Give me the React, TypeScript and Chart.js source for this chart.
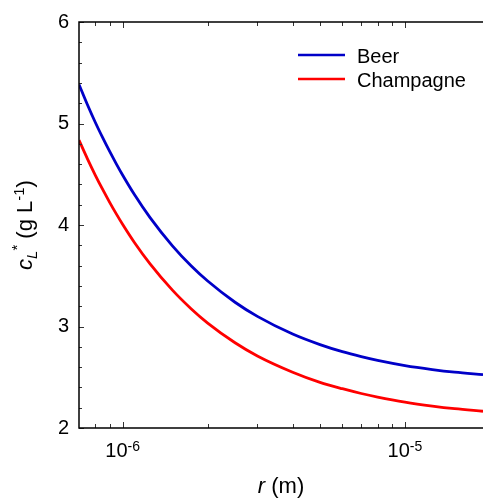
import React, { useEffect, useRef } from "react";
import { Chart, registerables } from "chart.js";

Chart.register(...registerables);

// Bubble radius r (m)
const R_VALUES = [
  7e-7, 7.5e-7, 8e-7, 8.5e-7, 9e-7, 9.5e-7, 1e-6, 1.1e-6, 1.25e-6, 1.5e-6,
  1.75e-6, 2e-6, 2.5e-6, 3e-6, 4e-6, 5e-6, 6e-6, 7e-6, 8e-6, 1e-5,
  1.25e-5, 1.5e-5, 1.89e-5,
];
// c_L* (g/L)
const BEER = [
  5.385, 5.185, 5.01, 4.858, 4.722, 4.6, 4.49, 4.3, 4.073, 3.795,
  3.596, 3.448, 3.239, 3.1, 2.926, 2.822, 2.752, 2.703, 2.666, 2.615,
  2.576, 2.55, 2.525,
];
const CHAMPAGNE = [
  4.836, 4.652, 4.49, 4.348, 4.221, 4.107, 4.005, 3.828, 3.617, 3.358,
  3.173, 3.034, 2.84, 2.71, 2.55, 2.45, 2.387, 2.34, 2.305, 2.255,
  2.216, 2.19, 2.165,
];
const SERIES_LABELS = ["Beer", "Champagne"];
const SERIES_COLORS = ["#0000C8", "#FF0000"];

const X_MIN = 7e-7;
const X_MAX = 1.89e-5;
const Y_MIN = 2;
const Y_MAX = 6;
const X_MAJOR_TICKS = [1e-6, 1e-5];
const X_MAJOR_EXPONENTS = ["-6", "-5"];
const X_MINOR_TICKS = [
  8e-7, 9e-7, 2e-6, 3e-6, 4e-6, 5e-6, 6e-6, 7e-6, 8e-6, 9e-6,
];
const Y_MAJOR_TICKS = [2, 3, 4, 5, 6];
const Y_MINOR_TICKS = [
  2.2, 2.4, 2.6, 2.8, 3.2, 3.4, 3.6, 3.8, 4.2, 4.4, 4.6, 4.8, 5.2, 5.4, 5.6, 5.8,
];

const FONT = "'Liberation Sans', Arial, sans-serif";

const drawPlugin = {
  id: "customAxesAndText",
  afterDatasetsDraw(chart: any) {
    const ctx: CanvasRenderingContext2D = chart.ctx;
    const { left, right, top, bottom } = chart.chartArea;
    const xs = chart.scales.x;
    const ys = chart.scales.y;
    ctx.save();

    // ticks
    ctx.strokeStyle = "#333";
    ctx.lineWidth = 1;
    ctx.beginPath();
    const xTick = (v: number, len: number) => {
      const px = Math.round(xs.getPixelForValue(v)) + 0.5;
      ctx.moveTo(px, bottom);
      ctx.lineTo(px, bottom - len);
      ctx.moveTo(px, top);
      ctx.lineTo(px, top + len);
    };
    X_MAJOR_TICKS.forEach((v) => xTick(v, 6));
    X_MINOR_TICKS.forEach((v) => xTick(v, 4));
    const yTick = (v: number, len: number) => {
      const py = Math.round(ys.getPixelForValue(v)) + 0.5;
      ctx.moveTo(left, py);
      ctx.lineTo(left + len, py);
    };
    Y_MAJOR_TICKS.forEach((v) => yTick(v, 5));
    Y_MINOR_TICKS.forEach((v) => yTick(v, 3));
    ctx.stroke();

    // axis lines (left, bottom, top)
    ctx.strokeStyle = "#000";
    ctx.lineWidth = 1.5;
    ctx.beginPath();
    ctx.moveTo(right, top);
    ctx.lineTo(left, top);
    ctx.lineTo(left, bottom);
    ctx.lineTo(right, bottom);
    ctx.stroke();

    // x tick labels 10^n
    ctx.fillStyle = "#000";
    ctx.textBaseline = "alphabetic";
    ctx.textAlign = "left";
    X_MAJOR_TICKS.forEach((v, i) => {
      const px = xs.getPixelForValue(v);
      ctx.font = `20px ${FONT}`;
      const wBase = ctx.measureText("10").width;
      ctx.font = `14px ${FONT}`;
      const wExp = ctx.measureText(X_MAJOR_EXPONENTS[i]).width;
      const start = px - (wBase + wExp) / 2;
      ctx.font = `20px ${FONT}`;
      ctx.fillText("10", start, bottom + 29);
      ctx.font = `14px ${FONT}`;
      ctx.fillText(X_MAJOR_EXPONENTS[i], start + wBase, bottom + 23);
    });

    // x axis title
    ctx.font = `italic 22px ${FONT}`;
    const wr = ctx.measureText("r").width;
    ctx.font = `22px ${FONT}`;
    const wrest = ctx.measureText(" (m)").width;
    const cx = (left + right) / 2;
    const sx = cx - (wr + wrest) / 2;
    ctx.font = `italic 22px ${FONT}`;
    ctx.fillText("r", sx, 493);
    ctx.font = `22px ${FONT}`;
    ctx.fillText(" (m)", sx + wr, 493);

    // y axis title (rotated)
    ctx.save();
    ctx.translate(32, (top + bottom) / 2);
    ctx.rotate(-Math.PI / 2);
    const parts: { t: string; f: string; dy: number }[] = [
      { t: "c", f: `italic 22px ${FONT}`, dy: 0 },
      { t: "L", f: `italic 15px ${FONT}`, dy: 5 },
      { t: "*", f: `15px ${FONT}`, dy: -10 },
      { t: " (g L", f: `22px ${FONT}`, dy: 0 },
      { t: "-1", f: `15px ${FONT}`, dy: -8 },
      { t: ")", f: `22px ${FONT}`, dy: 0 },
    ];
    let total = 0;
    const widths = parts.map((p) => {
      ctx.font = p.f;
      const w = ctx.measureText(p.t).width;
      total += w;
      return w;
    });
    let pos = -total / 2;
    parts.forEach((p, i) => {
      ctx.font = p.f;
      ctx.fillText(p.t, pos, p.dy);
      pos += widths[i];
    });
    ctx.restore();

    // legend
    chart.data.datasets.forEach((ds: any, i: number) => {
      const ly = 55 + i * 24;
      ctx.strokeStyle = ds.borderColor;
      ctx.lineWidth = 2.5;
      ctx.beginPath();
      ctx.moveTo(298, ly);
      ctx.lineTo(345, ly);
      ctx.stroke();
      ctx.fillStyle = "#000";
      ctx.font = `20px ${FONT}`;
      ctx.textBaseline = "alphabetic";
      ctx.fillText(ds.label, 357, ly + 8);
    });

    ctx.restore();
  },
};

export default function App() {
  const canvasRef = useRef<HTMLCanvasElement | null>(null);

  useEffect(() => {
    if (!canvasRef.current) return;
    const series = [BEER, CHAMPAGNE];
    const chart = new Chart(canvasRef.current, {
      type: "line",
      data: {
        datasets: series.map((vals, i) => ({
          label: SERIES_LABELS[i],
          data: R_VALUES.map((r, j) => ({ x: r, y: vals[j] })),
          borderColor: SERIES_COLORS[i],
          backgroundColor: SERIES_COLORS[i],
          borderWidth: 2.8,
          pointRadius: 0,
          cubicInterpolationMode: "monotone" as const,
          fill: false,
        })),
      },
      options: {
        animation: false,
        responsive: false,
        devicePixelRatio: 1,
        layout: { padding: { top: 18, right: 0, left: 0, bottom: 0 } },
        plugins: {
          legend: { display: false },
          tooltip: { enabled: false },
        },
        scales: {
          x: {
            type: "logarithmic",
            min: X_MIN,
            max: X_MAX,
            grid: { display: false, drawTicks: false },
            border: { display: false },
            ticks: { display: false },
            afterFit: (scale: any) => {
              scale.height = 70;
            },
          },
          y: {
            type: "linear",
            min: Y_MIN,
            max: Y_MAX,
            grid: { display: false, drawTicks: false },
            border: { display: false },
            ticks: {
              stepSize: 1,
              color: "#000",
              padding: 10,
              font: { family: FONT, size: 20 },
            },
            afterFit: (scale: any) => {
              scale.width = 79;
            },
          },
        },
      },
      plugins: [drawPlugin],
    });
    return () => chart.destroy();
  }, []);

  return (
    <div style={{ position: "absolute", left: 0, top: 0, width: 483, height: 498, background: "#fff" }}>
      <canvas ref={canvasRef} width={483} height={498} style={{ display: "block" }} />
    </div>
  );
}
